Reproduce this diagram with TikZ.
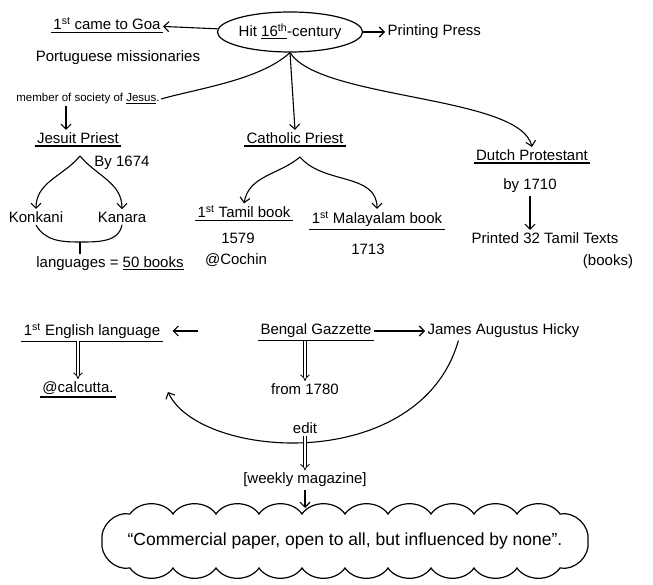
\documentclass[tikz,border=0pt]{standalone}
\usepackage{fontspec}
\setmainfont{Liberation Sans}
\usepackage{tikz}
\usetikzlibrary{arrows.meta, shapes, positioning, calc}
\tikzset{
  txt/.style={inner sep=2pt, font=\fontsize{15}{17}\selectfont, align=center},
  smalltxt/.style={inner sep=1pt, font=\fontsize{11.5}{13}\selectfont},
  uline/.style={txt, append after command={(\tikzlastnode.south west) edge[line width=1.2pt]
               (\tikzlastnode.south east)}},
  topic/.style={ellipse, draw, line width=1.2pt, minimum width=118pt, minimum height=40pt,
                inner sep=0pt, font=\fontsize{15}{17}\selectfont},
  quote/.style={inner sep=0pt, font=\fontsize{17.5}{19}\selectfont},
  puff/.style={line width=1.2pt, bend left=55},
  arc/.style={-{Straight Barb[length=5pt]}, line width=1.1pt},
  dbl/.style={double, double distance=2.5pt, -{Implies}, line width=0.8pt}
}
\begin{document}
\begin{tikzpicture}[x=1pt, y=-1pt, line width=1.1pt]
  \useasboundingbox[fill=white] (0,0) rectangle (653,585);
  \node[topic] (hit) at (290,32) {Hit \underline{16\textsuperscript{th}}-century};
  \node[uline] (goa) at (107,24) {1\textsuperscript{st} came to Goa};
  \node[txt] (portu) at (118,58) {Portuguese missionaries};
  \node[txt, anchor=west] (press) at (385,32) {Printing Press};
  \node[smalltxt] (member) at (88,99) {member of society of \underline{Jesus}.};
  \node[uline] (jesuit) at (78,138) {Jesuit Priest};
  \node[txt] (by1674) at (122,163) {By 1674};
  \node[txt] (konkani) at (36,217) {Konkani};
  \node[txt] (kanara) at (122,217) {Kanara};
  \node[txt] (lang) at (110,264) {languages = \underline{50 books}};
  \node[uline] (catholic) at (295,138) {Catholic Priest};
  \node[uline] (tamil) at (244,212) {1\textsuperscript{st} Tamil book};
  \node[txt] (y1579) at (238,238) {1579};
  \node[txt] (cochin) at (236,260) {@Cochin};
  \node[uline] (malay) at (377,219) {1\textsuperscript{st} Malayalam book};
  \node[txt] (y1713) at (368,249) {1713};
  \node[uline] (dutch) at (532,155) {Dutch Protestant};
  \node[txt] (by1710) at (530,186) {by 1710};
  \node[txt] (printed) at (545,238) {Printed 32 Tamil Texts};
  \node[txt] (books) at (608,262) {(books)};
  \node[uline] (english) at (92,331) {1\textsuperscript{st} English language};
  \node[uline] (calcutta) at (78,388) {@calcutta.};
  \node[uline] (bengal) at (316,331) {Bengal Gazzette};
  \node[txt, anchor=west] (james) at (425,331) {James Augustus Hicky};
  \node[txt] (from1780) at (305,389) {from 1780};
  \node[txt] (edit) at (305,428) {edit};
  \node[txt] (weekly) at (305,480) {[weekly magazine]};
  \node[quote] (cloud) at (345,541) {``Commercial paper, open to all, but influenced by none''.};
  \coordinate (jsplit) at (80,156);
  \coordinate (jjoin) at (80,242);
  \coordinate (csplit) at (300,157);
  \coordinate (editend) at (168,392);
  \coordinate (cloudtop) at (305,508);

  \draw[puff] (130,514) foreach \i in {1,...,10} { to ++(43,0) }
    to (588,541) to (560,568) foreach \i in {1,...,10} { to ++(-43,0) }
    to (102,541) to (130,514);

  \draw[arc] (hit) -- (goa);
  \draw[arc] (hit) -- (press);
  \draw (hit.south) .. controls (260,80) and (200,88) .. (member.east);
  \draw[arc] (member.south -| 66,0) -- (jesuit.north -| 66,0);
  \draw[arc] (hit.south) -- (catholic.north);
  \draw[arc] (hit.south) .. controls (320,100) and (520,95) .. (dutch.north);
  \draw[arc] (jsplit) to[out=230, in=90] (konkani.north);
  \draw[arc] (jsplit) to[out=-50, in=90] (kanara.north);
  \draw (konkani.south) to[out=-60, in=180] (jjoin) to[out=0, in=-100] (kanara.south);
  \draw (jjoin) -- (lang.north -| jjoin);
  \draw[arc] (csplit) to[out=220, in=80] (tamil.north);
  \draw[arc] (csplit) to[out=-50, in=90] (malay.north);
  \draw[arc] (by1710.south) -- (by1710.south |- printed.north);
  \draw[arc, shorten <=60pt, shorten >=10pt] (bengal.west) -- (english.east);
  \draw[arc] (bengal.east) -- (james.west);
  \draw[dbl] (english.south -| calcutta) -- (calcutta.north);
  \draw[dbl] (bengal.south -| from1780) -- (from1780.north);
  \draw[arc] (james.south) ++(-45,0) .. controls (420,475) and (200,460) .. (editend);
  \draw[dbl] (edit.south) -- (weekly.north);
  \draw[arc] (weekly.south) -- (cloudtop);
\end{tikzpicture}
\end{document}
